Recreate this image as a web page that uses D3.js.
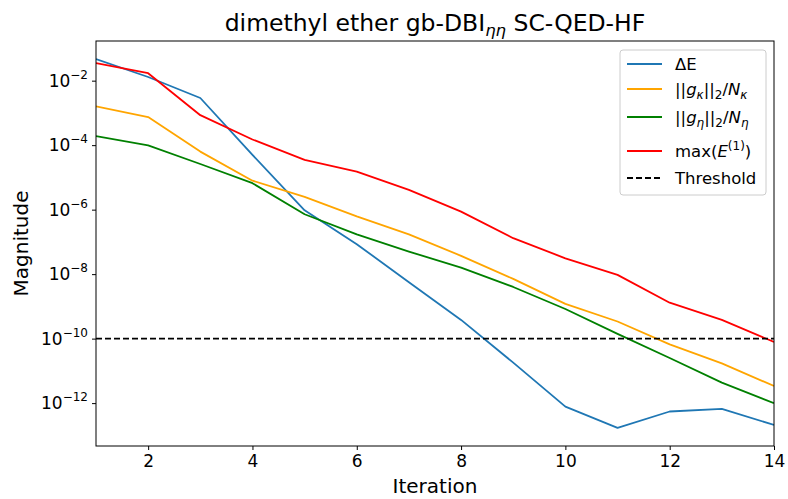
<!DOCTYPE html>
<html><head><meta charset="utf-8">
<script src="https://cdn.jsdelivr.net/npm/d3@7"></script>
<style>body{margin:0;background:#fff}svg{display:block}text{font-family:"DejaVu Sans",sans-serif;fill:#000}</style>
</head><body><svg id="c" width="788" height="499"></svg>
<script>
const iterations = [1,2,3,4,5,6,7,8,9,10,11,12,13,14];
const deltaE   = [4.7e-2,1.3e-2,2.9e-3,5.0e-5,9.5e-7,8.5e-8,5.6e-9,3.8e-10,1.8e-11,7.8e-13,1.7e-13,5.5e-13,6.6e-13,2.1e-13];
const gKappa   = [1.6e-3,7.4e-4,6.3e-5,7.9e-6,2.5e-6,6.2e-7,1.7e-7,3.7e-8,7.1e-9,1.2e-9,3.4e-10,6.6e-11,1.7e-11,3.4e-12];
const gEta     = [1.9e-4,9.8e-5,2.6e-5,6.6e-6,7.2e-7,1.7e-7,5.0e-8,1.6e-8,4.0e-9,8.3e-10,1.4e-10,2.5e-11,4.3e-12,1.0e-12];
const maxE1    = [3.5e-2,1.7e-2,8.5e-4,1.5e-4,3.5e-5,1.5e-5,4.1e-6,8.7e-7,1.3e-7,3.1e-8,9.5e-9,1.3e-9,3.8e-10,7.9e-11];
const threshold = 1e-10;
const xTicks = [2,4,6,8,10,12,14];
const yTickExps = [-2,-4,-6,-8,-10,-12];

const svg = d3.select("#c");
const L=96, R=774, T=41, B=446;
const x = d3.scaleLinear().domain([1,14]).range([L,R]);
const y = d3.scaleLog().domain([Math.pow(10,-13.33), Math.pow(10,-0.77)]).range([B,T]);

const series = [
  {name:"dE", data:deltaE, color:"#1f77b4"},
  {name:"gk", data:gKappa, color:"#ffa500"},
  {name:"ge", data:gEta, color:"#008000"},
  {name:"me", data:maxE1, color:"#ff0000"}
];
const line = d3.line().x((d,i)=>x(iterations[i])).y(d=>y(d));
const g = svg.append("g");
g.append("defs").append("clipPath").attr("id","clip").append("rect").attr("x",L).attr("y",T).attr("width",R-L).attr("height",B-T);
const plot = g.append("g").attr("clip-path","url(#clip)");
series.forEach(s=>{
  plot.append("path").datum(s.data).attr("d",line).attr("fill","none").attr("stroke",s.color).attr("stroke-width",1.8).attr("stroke-linejoin","round");
});
plot.append("line").attr("x1",L).attr("x2",R).attr("y1",y(threshold)).attr("y2",y(threshold))
  .attr("stroke","#000").attr("stroke-width",1.8).attr("stroke-dasharray","6,3");

// axes
const xAxis = d3.axisBottom(x).tickValues(xTicks).tickSize(4).tickPadding(5).tickFormat(d3.format("d"));
const gx = g.append("g").attr("transform",`translate(0,${B})`).call(xAxis);
gx.select(".domain").remove();
gx.selectAll("text").attr("font-size",17).attr("font-family","DejaVu Sans").attr("fill","#000");
gx.selectAll("line").attr("stroke","#000");

const yAxis = d3.axisLeft(y).tickValues(yTickExps.map(e=>Math.pow(10,e))).tickSize(4).tickFormat("");
const gy = g.append("g").attr("transform",`translate(${L},0)`).call(yAxis);
gy.select(".domain").remove();
gy.selectAll("line").attr("stroke","#000");
yTickExps.forEach(e=>{
  const t = g.append("text").attr("x",L-8).attr("y",y(Math.pow(10,e))+6).attr("text-anchor","end").attr("font-size",17);
  t.append("tspan").text("10");
  t.append("tspan").attr("dy",-8).attr("font-size",12).text("\u2212"+Math.abs(e));
});

// spines
g.append("rect").attr("x",L).attr("y",T).attr("width",R-L).attr("height",B-T).attr("fill","none").attr("stroke","#000").attr("stroke-width",1);

// labels
const title = svg.append("text").attr("x",(L+R)/2).attr("y",31).attr("text-anchor","middle").attr("font-size",23.5);
title.append("tspan").text("dimethyl ether gb-DBI");
title.append("tspan").attr("dy",5).attr("font-size",16.5).attr("font-style","italic").text("\u03b7\u03b7");
title.append("tspan").attr("dy",-5).text(" SC-QED-HF");
svg.append("text").attr("x",(L+R)/2).attr("y",493).attr("text-anchor","middle").attr("font-size",20).text("Iteration");
svg.append("text").attr("transform",`translate(28,${(T+B)/2}) rotate(-90)`).attr("text-anchor","middle").attr("font-size",20).text("Magnitude");

// legend
const lg = svg.append("g");
lg.append("rect").attr("x",620).attr("y",50).attr("width",146).attr("height",145).attr("rx",3)
  .attr("fill","#fff").attr("fill-opacity",0.8).attr("stroke","#ccc").attr("stroke-width",1);
const legendItems = [
  {color:"#1f77b4", y:64, dash:null, parts:[["\u0394E"]]},
  {color:"#ffa500", y:89, dash:null, parts:[["||"],["g","i"],["\u03ba","i",4,12],["||",null,-4],["2",null,4,12],["/",null,-4],["N","i"],["\u03ba","i",4,12]]},
  {color:"#008000", y:117, dash:null, parts:[["||"],["g","i"],["\u03b7","i",4,12],["||",null,-4],["2",null,4,12],["/",null,-4],["N","i"],["\u03b7","i",4,12]]},
  {color:"#ff0000", y:151, dash:null, parts:[["max("],["E","i"],["(1)",null,-7,12],[")",null,7]]},
  {color:"#000", y:178, dash:"6,3", parts:[["Threshold"]]}
];
legendItems.forEach(it=>{
  lg.append("line").attr("x1",627).attr("x2",662).attr("y1",it.y).attr("y2",it.y).attr("stroke",it.color).attr("stroke-width",1.8).attr("stroke-dasharray",it.dash);
  const t = lg.append("text").attr("x",675).attr("y",it.y+6).attr("font-size",16.5);
  it.parts.forEach(p=>{
    const s = t.append("tspan").text(p[0]);
    if(p[1]==="i") s.attr("font-style","italic");
    if(p[2]) s.attr("dy",p[2]);
    if(p[3]) s.attr("font-size",p[3]);
  });
});
</script></body></html>
